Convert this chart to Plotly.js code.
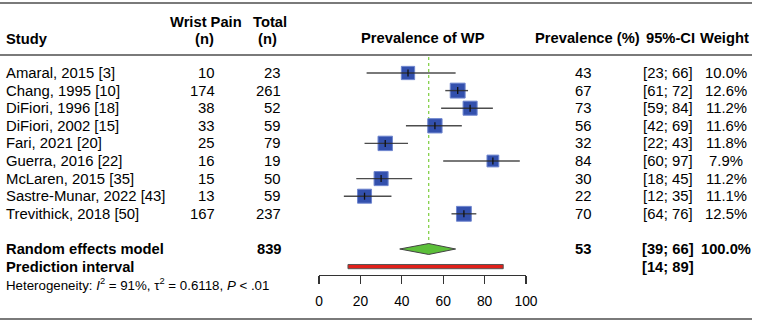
<!DOCTYPE html>
<html>
<head>
<meta charset="utf-8">
<script src="https://cdn.plot.ly/plotly-3.0.1.min.js"></script>
<style>html,body{margin:0;padding:0;background:#fff;}#chart{width:757px;height:323px;}</style>
</head>
<body>
<div id="chart"></div>
<script>
// ---- data ----
const studies = ["Amaral, 2015 [3]", "Chang, 1995 [10]", "DiFiori, 1996 [18]", "DiFiori, 2002 [15]",
  "Fari, 2021 [20]", "Guerra, 2016 [22]", "McLaren, 2015 [35]", "Sastre-Munar, 2022 [43]", "Trevithick, 2018 [50]"];
const events = [10, 174, 38, 33, 25, 16, 15, 13, 167];
const totals = [23, 261, 52, 59, 79, 19, 50, 59, 237];
const prevalence = [43, 67, 73, 56, 32, 84, 30, 22, 70];
const ciLow = [23, 61, 59, 42, 22, 60, 18, 12, 64];
const ciHigh = [66, 72, 84, 69, 43, 97, 45, 35, 76];
const weights = [10.0, 12.6, 11.2, 11.6, 11.8, 7.9, 11.2, 11.1, 12.5];
const pooledEst = 53, pooledLow = 39, pooledHigh = 66, pooledTotal = 839, pooledWeight = 100.0;
const predLow = 14, predHigh = 89;
const tickVals = [0, 20, 40, 60, 80, 100];

// ---- layout helpers ----
const W = 757, H = 323;
const px = p => p / W;             // pixel x -> paper
const py = p => 1 - p / H;         // pixel y -> paper
const ROW0 = 73, ROWH = 17.6;      // pixel of row 0, row spacing
const rowOf = p => (p - ROW0) / ROWH;
const FONT = "Arial, 'Liberation Sans', Helvetica, sans-serif";
const rowIdx = studies.map((_, i) => i);
const rePos = 10, piPos = 11, hetPos = 12;

// fit font sizes to the widths measured on the reference
const cv = document.createElement('canvas').getContext('2d');
function fit(str, target, bold) {
  cv.font = (bold ? 'bold ' : '') + '100px ' + FONT;
  return Math.round(100 * target / cv.measureText(str).width * 10) / 10;
}
const FS = (fit('Sastre-Munar, 2022 [43]', 157) + fit('Amaral, 2015 [3]', 106) + fit('[23; 66]', 52)) / 3;
const FSB = (fit('Prevalence of WP', 121, true) + fit('Prevalence (%)', 109, true) + fit('Random effects model', 156, true)) / 3;
const FSH = fit('Heterogeneity: I2 = 91%, τ2 = 0.6118, P < .01', 268);
const FST = fit('100', 23);

const ann = [];
function txt(text, xpix, row, anchor, size) {
  ann.push({text: text, x: px(xpix), xref: 'paper', y: row, yref: 'y', xanchor: anchor, yanchor: 'middle',
    showarrow: false, borderpad: 0, font: {family: FONT, size: size || FS, color: '#000'}});
}
const B = s => '<b>' + s + '</b>';

// headers
txt(B('Study'), 5, rowOf(39), 'left', FSB);
txt(B('Wrist Pain'), 206, rowOf(22), 'center', FSB);
txt(B('(n)'), 205, rowOf(39), 'center', FSB);
txt(B('Total'), 270, rowOf(22), 'center', FSB);
txt(B('(n)'), 267, rowOf(39), 'center', FSB);
txt(B('Prevalence of WP'), 422.5, rowOf(38), 'center', FSB);
txt(B('Prevalence (%)'), 587.5, rowOf(38), 'center', FSB);
txt(B('95%-CI'), 670, rowOf(38), 'center', FSB);
txt(B('Weight'), 724, rowOf(38), 'center', FSB);

// study rows
rowIdx.forEach(i => {
  txt(studies[i], 5, i, 'left');
  txt(String(events[i]), 216, i, 'right');
  txt(String(totals[i]), 282, i, 'right');
  txt(String(prevalence[i]), 583, i, 'center');
  txt('[' + ciLow[i] + '; ' + ciHigh[i] + ']', 668, i, 'center');
  txt(weights[i].toFixed(1) + '%', 726, i, 'center');
});
// pooled rows
txt(B('Random effects model'), 5, rePos, 'left', FSB);
txt(B(String(pooledTotal)), 283, rePos, 'right', FSB);
txt(B(String(pooledEst)), 583, rePos, 'center', FSB);
txt(B('[' + pooledLow + '; ' + pooledHigh + ']'), 668, rePos, 'center', FSB);
txt(B(pooledWeight.toFixed(1) + '%'), 726, rePos, 'center', FSB);
txt(B('Prediction interval'), 5, piPos, 'left', FSB);
txt(B('[' + predLow + '; ' + predHigh + ']'), 668, piPos, 'center', FSB);
txt('Heterogeneity: <i>I</i><sup>2</sup> = 91%, τ<sup>2</sup> = 0.6118, <i>P</i> &lt; .01', 5, hetPos, 'left', FSH);

// ---- traces ----
const traces = [];
// squares
traces.push({
  type: 'scatter', mode: 'markers', x: prevalence, y: rowIdx, cliponaxis: false, hoverinfo: 'skip',
  marker: {symbol: 'square', opacity: 1, size: weights.map(w => 4.2 * Math.sqrt(w)), color: '#3350ad',
    line: {color: '#6f86cf', width: 1}}
});
// CI lines
const lx = [], ly = [];
rowIdx.forEach(i => { lx.push(ciLow[i], ciHigh[i], null); ly.push(i, i, null); });
traces.push({type: 'scatter', mode: 'lines', x: lx, y: ly, cliponaxis: false, hoverinfo: 'skip',
  line: {color: 'rgba(45,45,45,0.85)', width: 1.4}});
// estimate ticks
traces.push({type: 'scatter', mode: 'markers', x: prevalence, y: rowIdx, cliponaxis: false, hoverinfo: 'skip',
  marker: {symbol: 'line-ns', size: 5, opacity: 1, line: {color: '#111', width: 1.3}}});
// diamond
const dh = 0.31;
traces.push({type: 'scatter', mode: 'lines', fill: 'toself', fillcolor: '#5cbf3a', hoverinfo: 'skip',
  x: [pooledLow, pooledEst, pooledHigh, pooledEst, pooledLow],
  y: [rePos, rePos - dh, rePos, rePos + dh, rePos],
  line: {color: '#444', width: 1}});
// prediction interval
const ph = 0.12;
traces.push({type: 'scatter', mode: 'lines', fill: 'toself', fillcolor: '#e0201a', hoverinfo: 'skip',
  x: [predLow, predHigh, predHigh, predLow, predLow],
  y: [piPos - ph, piPos - ph, piPos + ph, piPos + ph, piPos - ph],
  line: {color: '#555', width: 1}});

// ---- shapes ----
const shapes = [];
[3, 55, 319].forEach(p => shapes.push({type: 'line', xref: 'paper', yref: 'paper', x0: 0, x1: px(752),
  y0: py(p), y1: py(p), line: {color: '#7a7a7a', width: 2}}));
shapes.push({type: 'line', xref: 'x', yref: 'y', x0: pooledEst, x1: pooledEst, y0: rowOf(57), y1: rePos - dh,
  line: {color: '#7ccd3c', width: 1.2, dash: 'dot'}, layer: 'below'});

const layout = {
  width: W, height: H, margin: {l: 0, r: 0, t: 0, b: 0}, paper_bgcolor: '#fff', plot_bgcolor: 'rgba(0,0,0,0)',
  showlegend: false,
  xaxis: {domain: [px(319), px(526)], range: [0, 100], anchor: 'free', position: py(275),
    showline: true, linecolor: '#333', linewidth: 1.2, ticks: 'outside', ticklen: 8, tickwidth: 1.2, tickcolor: '#333',
    tickvals: tickVals, ticktext: tickVals.map(String), showgrid: false, zeroline: false,
    ticklabelstandoff: 5, tickfont: {family: FONT, size: FST, color: '#000'}, fixedrange: true},
  yaxis: {domain: [0, 1], range: [rowOf(H), rowOf(0)], visible: false, fixedrange: true},
  annotations: ann, shapes: shapes
};
Plotly.newPlot('chart', traces, layout, {displayModeBar: false, staticPlot: true});
</script>
</body>
</html>
